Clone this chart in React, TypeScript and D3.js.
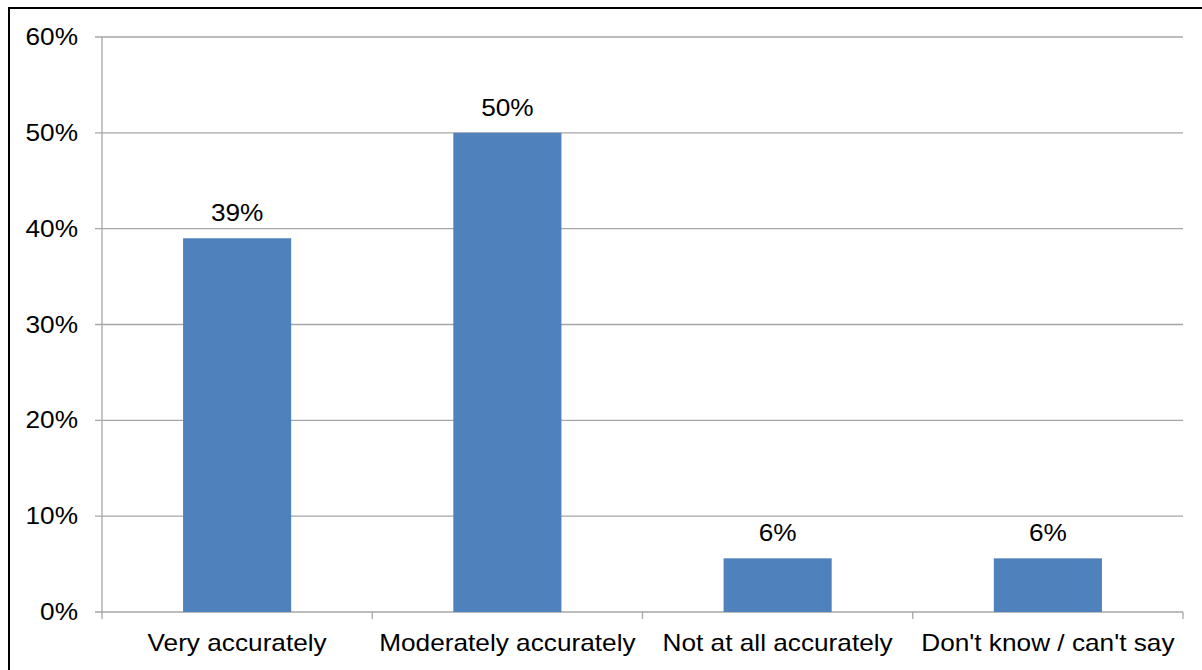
import React from "react";
import * as d3 from "d3";

const categories = ["Very accurately", "Moderately accurately", "Not at all accurately", "Don't know / can't say"];
const values = [39, 50, 5.6, 5.6];
const valueLabels = ["39%", "50%", "6%", "6%"];
const yTicks = [0, 10, 20, 30, 40, 50, 60];

const W = 1202;
const H = 670;
const left = 102;
const right = 1183;
const top = 37;
const bottom = 612;
const FS = 23;
const SX = 1.14;
const FONT = "'Liberation Sans', Arial, sans-serif";

function T({ x, y, anchor, children }: { x: number; y: number; anchor: string; children: React.ReactNode }) {
  return (
    <g transform={`translate(${x},${y}) scale(${SX},1)`}>
      <text x={0} y={0} textAnchor={anchor} fontFamily={FONT} fontSize={FS} fill="#000">
        {children}
      </text>
    </g>
  );
}

export default function App() {
  const x = d3.scaleBand<string>().domain(categories).range([left, right]).paddingInner(0.6).paddingOuter(0.3);
  const xCat = d3.scaleBand<string>().domain(categories).range([left, right]).padding(0);
  const y = d3.scaleLinear().domain([0, 60]).range([bottom, top]);
  const boundaries = [left, ...categories.map((c) => (xCat(c) as number) + xCat.bandwidth())];

  return (
    <svg width={W} height={H} style={{ position: "absolute", left: 0, top: 0, background: "#fff" }}>
      <rect x={0} y={0} width={W} height={H} fill="#fff" />
      <rect x={9} y={8} width={W + 20} height={H + 20} fill="none" stroke="#000" strokeWidth={2} />
      {yTicks.map((t) => (
        <g key={t}>
          <line x1={left - 7} x2={right} y1={y(t)} y2={y(t)} stroke="#A6A6A6" strokeWidth={1.3} />
          <T x={78} y={y(t) + 8} anchor="end">{`${t}%`}</T>
        </g>
      ))}
      <line x1={left} x2={left} y1={top} y2={bottom} stroke="#A6A6A6" strokeWidth={1.3} />
      {boundaries.map((b, i) => (
        <line key={i} x1={b} x2={b} y1={bottom} y2={bottom + 7} stroke="#A6A6A6" strokeWidth={1.3} />
      ))}
      {categories.map((c, i) => {
        const bx = x(c) as number;
        const bw = x.bandwidth();
        return (
          <g key={c}>
            <rect x={bx} y={y(values[i])} width={bw} height={bottom - y(values[i])} fill="#4F81BD" />
            <T x={bx + bw / 2} y={y(values[i]) - 17} anchor="middle">{valueLabels[i]}</T>
            <T x={(xCat(c) as number) + xCat.bandwidth() / 2} y={651} anchor="middle">{c}</T>
          </g>
        );
      })}
    </svg>
  );
}
